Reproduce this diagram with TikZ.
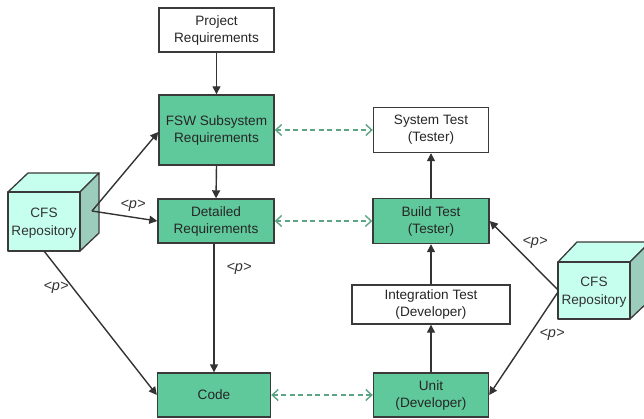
\documentclass[tikz,border=0pt]{standalone}
\usepackage{fontspec}
\setmainfont{Liberation Sans}
\usetikzlibrary{arrows.meta}
\definecolor{boxgreen}{HTML}{5FC99B}
\definecolor{dashgreen}{HTML}{5BA585}
\definecolor{cubeface}{HTML}{C6FFEE}
\definecolor{cubeside}{HTML}{9CCDBC}
\definecolor{ink}{HTML}{3A3A3A}
\tikzset{
  lowertext/.style={execute at begin node={\mbox{}\\[-11.5pt]}},
  whitebox/.style={draw=ink,line width=1.4pt,fill=white,text=black!85,align=center,font=\fontsize{13.6}{17}\selectfont,inner sep=0pt,lowertext},
  greenbox/.style={whitebox,fill=boxgreen},
  flow/.style={draw=black!80,line width=1.4pt,-{Triangle[length=8pt,width=8pt]}},
  link/.style={draw=dashgreen,line width=1.4pt,dash pattern=on 5pt off 3.5pt,{Straight Barb[length=6pt,width=11pt]}-{Straight Barb[length=6pt,width=11pt]}},
  plabel/.style={font=\itshape\fontsize{14.5}{16}\selectfont,text=black!80,inner sep=0pt},
  cubeedge/.style={draw=ink,line width=1.3pt,line join=round},
  cubetext/.style={align=center,font=\fontsize{13.6}{17.5}\selectfont,text=black!80,inner sep=0pt}
}
\begin{document}
\begin{tikzpicture}[x=1pt,y=-1pt]
\useasboundingbox (0,0) rectangle (644,419);
\clip (0,0) rectangle (644,419);
% left cube
\filldraw[cubeedge,fill=cubeface] (8,192) -- (28,173) -- (99,173) -- (80,192) -- cycle;
\filldraw[cubeedge,fill=cubeside] (80,192) -- (99,173) -- (99,233) -- (80,251) -- cycle;
\filldraw[cubeedge,fill=cubeface] (8,192) rectangle (80,251);
\node[cubetext] (cubeL) at (44,223) {CFS\\Repository};
% right cube
\filldraw[cubeedge,fill=cubeface] (558,262) -- (577,242) -- (650,242) -- (630,262) -- cycle;
\filldraw[cubeedge,fill=cubeside] (630,262) -- (650,242) -- (650,300) -- (630,319) -- cycle;
\filldraw[cubeedge,fill=cubeface] (558,262) rectangle (630,319);
\node[cubetext] (cubeR) at (594,292) {CFS\\Repository};
% boxes
\node[whitebox,minimum width=115pt,minimum height=44pt] (proj) at (216.5,30) {Project\\Requirements};
\node[greenbox,minimum width=115pt,minimum height=70pt] (fsw) at (216.5,130) {FSW Subsystem\\Requirements};
\node[greenbox,minimum width=116pt,minimum height=44pt] (det) at (216,221) {Detailed\\Requirements};
\node[greenbox,minimum width=113pt,minimum height=44pt] (code) at (214,395) {Code};
\node[whitebox,minimum width=115pt,minimum height=45pt] (sys) at (431,130) {System Test\\(Tester)};
\node[greenbox,minimum width=116pt,minimum height=45pt] (build) at (431,221) {Build Test\\(Tester)};
\node[whitebox,minimum width=158pt,minimum height=39pt] (integ) at (431,304.5) {Integration Test\\(Developer)};
\node[greenbox,minimum width=115pt,minimum height=44pt] (unit) at (431,395) {Unit\\(Developer)};
% free ends on the cubes
\coordinate (lside) at (92,211);
\coordinate (lbot) at (44,251);
\coordinate (rA) at (558,290);
\coordinate (rB) at (558,292);
% solid connectors
\draw[flow] (proj.south) -- (fsw.north);
\draw[flow] (fsw.south) -- (det.north);
\draw[flow] (det.south -| code.north) -- (code.north);
\draw[flow] (lside) -- (fsw.west |- 0,132);
\draw[flow] (lside) -- (det.west);
\draw[flow] (lbot) -- (code.west);
\draw[flow] (unit.north) -- (integ.south);
\draw[flow] (integ.north) -- (build.south);
\draw[flow] (build.north) -- (sys.south);
\draw[flow] (rA) -- (build.east);
\draw[flow] (rB) -- (unit.east);
% dashed links
\draw[link] (fsw.east) -- (sys.west);
\draw[link] (det.east) -- (build.west);
\draw[link] (code.east) -- (unit.west);
% labels
\node[plabel] (p1) at (133,206) {<p>};
\node[plabel] (p2) at (56,288) {<p>};
\node[plabel] (p3) at (239,269) {<p>};
\node[plabel] (p4) at (535,243) {<p>};
\node[plabel] (p5) at (552,335) {<p>};
\end{tikzpicture}
\end{document}
